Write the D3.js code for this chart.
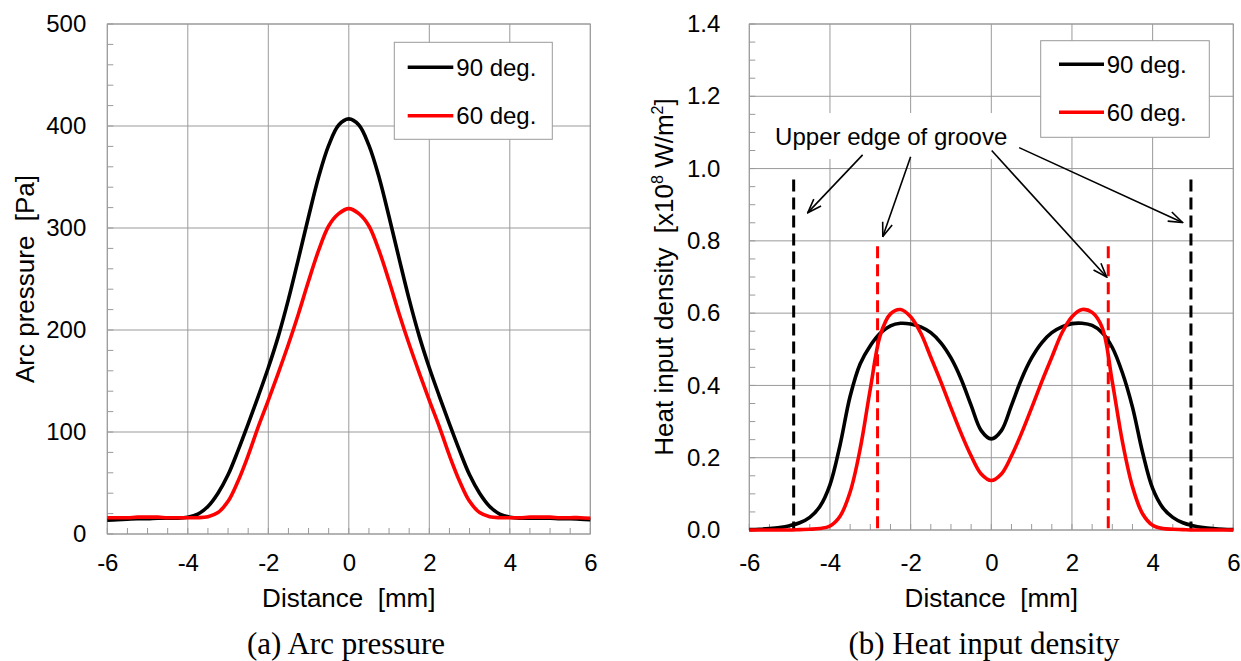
<!DOCTYPE html>
<html>
<head>
<meta charset="utf-8">
<script src="https://cdn.jsdelivr.net/npm/d3@7"></script>
<style>
  html, body { margin: 0; padding: 0; background: #fff; }
  svg { display: block; }
</style>
</head>
<body>
<svg id="fig" width="1241" height="661"></svg>
<script>
// ---- data ---------------------------------------------------------------
// distance from the torch axis [mm]
const distance = [
  -6, -5.75, -5.5, -5.25, -5, -4.75, -4.5, -4.25, -4, -3.75, -3.5, -3.25, -3,
  -2.75, -2.5, -2.25, -2, -1.75, -1.5, -1.25, -1, -0.75, -0.5, -0.25, 0,
  0.25, 0.5, 0.75, 1, 1.25, 1.5, 1.75, 2, 2.25, 2.5, 2.75, 3, 3.25, 3.5,
  3.75, 4, 4.25, 4.5, 4.75, 5, 5.25, 5.5, 5.75, 6
];

// arc pressure [Pa]
const arcPressure90 = [
  13.5, 14, 14.5, 15, 15, 15.5, 15.5, 15.5, 16.5, 19.5, 27, 40, 58,
  82, 108, 135, 163, 194, 230, 270, 311, 350, 381, 401, 407,
  401, 381, 350, 311, 270, 230, 194, 163, 135, 108, 82, 58, 40, 27,
  19.5, 16.5, 15.5, 15.5, 15.5, 15.5, 15, 15, 14.5, 14
];
const arcPressure60 = [
  16, 16, 16, 16.5, 16.5, 16.5, 16, 16, 16, 16, 17, 21, 32,
  52, 77, 105, 131, 158, 186, 216, 248, 278, 302, 314, 319,
  314, 302, 278, 248, 216, 186, 158, 131, 105, 77, 52, 32, 21, 17,
  16, 16, 16, 16.5, 16.5, 16.5, 16, 16, 16, 15.5
];

// heat input density [x10^8 W/m^2]
const heatInput90 = [
  0.001, 0.002, 0.004, 0.007, 0.012, 0.02, 0.035, 0.065, 0.125, 0.235, 0.37, 0.46, 0.51,
  0.545, 0.565, 0.572, 0.57, 0.562, 0.546, 0.518, 0.476, 0.418, 0.345, 0.275, 0.252,
  0.275, 0.345, 0.418, 0.476, 0.518, 0.546, 0.562, 0.571, 0.572, 0.566, 0.546, 0.505, 0.435, 0.34,
  0.215, 0.115, 0.062, 0.035, 0.02, 0.012, 0.007, 0.004, 0.002, 0.001
];
const heatInput60 = [
  0, 0, 0, 0, 0, 0.001, 0.002, 0.004, 0.011, 0.038, 0.105, 0.225, 0.39,
  0.54, 0.598, 0.61, 0.59, 0.545, 0.478, 0.41, 0.338, 0.268, 0.205, 0.155, 0.137,
  0.155, 0.205, 0.268, 0.338, 0.41, 0.478, 0.545, 0.59, 0.61, 0.602, 0.56, 0.41, 0.245, 0.12,
  0.045, 0.013, 0.004, 0.002, 0.001, 0, 0, 0, 0, 0
];

// groove upper edges: position [mm] and marker height
const grooveEdges90 = [-4.9, 4.95];
const grooveEdges60 = [-2.82, 2.9];
const grooveMarkTop90 = 0.97;
const grooveMarkTop60 = 0.785;

// ticks
const distanceTicks = [-6, -4, -2, 0, 2, 4, 6];
const pressureTicks = [0, 100, 200, 300, 400, 500];
const heatTicks = [0, 0.2, 0.4, 0.6, 0.8, 1.0, 1.2, 1.4];

const seriesNames = ["90 deg.", "60 deg."];
const seriesColors = ["#000000", "#ff0000"];

// callout: label anchor and arrows (start -> tip) in data units
const calloutText = "Upper edge of groove";
const calloutAnchor = [-5.36, 1.09];
const calloutArrows = [
  [[-3.19, 1.038], [-4.55, 0.878]],
  [[-2.0, 1.033], [-2.69, 0.812]],
  [[0.01, 1.05], [2.86, 0.70]],
  [[0.69, 1.058], [4.74, 0.851]]
];

// ---- drawing ------------------------------------------------------------
const SANS = "'Liberation Sans', Arial, Helvetica, sans-serif";
const SERIF = "'Liberation Serif', 'Times New Roman', serif";
const GRID = "#9a9a9a";
const svg = d3.select("#fig");

const defs = svg.append("defs");
defs.append("marker")
  .attr("id", "openArrow")
  .attr("viewBox", "0 0 16 12")
  .attr("refX", 15).attr("refY", 6)
  .attr("markerWidth", 16).attr("markerHeight", 12)
  .attr("markerUnits", "userSpaceOnUse")
  .attr("orient", "auto")
  .append("path")
  .attr("d", "M1,1 L15,6 L1,11")
  .attr("fill", "none").attr("stroke", "#000").attr("stroke-width", 1.6);

function drawPanel(o) {
  const x = d3.scaleLinear().domain([-6, 6]).range([o.left, o.right]);
  const y = d3.scaleLinear().domain(o.yDomain).range([o.bottom, o.top]);
  const g = svg.append("g");

  // grid
  g.append("g").selectAll("line").data(distanceTicks).join("line")
    .attr("x1", d => x(d)).attr("x2", d => x(d))
    .attr("y1", o.top).attr("y2", o.bottom)
    .attr("stroke", GRID).attr("stroke-width", 1);
  g.append("g").selectAll("line").data(o.yTicks).join("line")
    .attr("x1", o.left).attr("x2", o.right)
    .attr("y1", d => y(d)).attr("y2", d => y(d))
    .attr("stroke", GRID).attr("stroke-width", 1);

  // minor ticks, pointing into the plot
  const minorX = d3.range(-6, 6.001, 0.5);
  g.append("g").selectAll("line").data(minorX).join("line")
    .attr("x1", d => x(d)).attr("x2", d => x(d))
    .attr("y1", o.bottom).attr("y2", o.bottom - 6)
    .attr("stroke", GRID).attr("stroke-width", 1);
  const minorY = d3.range(o.yDomain[0], o.yDomain[1] + o.minorStep / 2, o.minorStep);
  g.append("g").selectAll("line").data(minorY).join("line")
    .attr("x1", o.left).attr("x2", o.left + 6)
    .attr("y1", d => y(d)).attr("y2", d => y(d))
    .attr("stroke", GRID).attr("stroke-width", 1);

  // frame
  g.append("rect")
    .attr("x", o.left).attr("y", o.top)
    .attr("width", o.right - o.left).attr("height", o.bottom - o.top)
    .attr("fill", "none").attr("stroke", GRID).attr("stroke-width", 1);

  // tick labels
  const ax = g.append("g").attr("transform", `translate(0,${o.bottom})`)
    .call(d3.axisBottom(x).tickValues(distanceTicks).tickSize(0).tickPadding(o.xPad)
      .tickFormat(d => String(d)));
  const ay = g.append("g").attr("transform", `translate(${o.left},0)`)
    .call(d3.axisLeft(y).tickValues(o.yTicks).tickSize(0).tickPadding(o.yPad)
      .tickFormat(o.fmt));
  [ax, ay].forEach(a => {
    a.select(".domain").remove();
    a.attr("font-family", SANS).attr("font-size", 24);
    a.selectAll("text").attr("fill", "#000");
  });

  // axis titles
  g.append("text")
    .attr("x", (o.left + o.right) / 2).attr("y", 607)
    .attr("text-anchor", "middle")
    .attr("font-family", SANS).attr("font-size", 26).attr("fill", "#000")
    .attr("xml:space", "preserve")
    .text("Distance  [mm]");

  const yt = g.append("text")
    .attr("transform", `translate(${o.yTitleX},${(o.top + o.bottom) / 2}) rotate(-90)`)
    .attr("text-anchor", "middle")
    .attr("font-family", SANS).attr("font-size", 26).attr("fill", "#000")
    .attr("xml:space", "preserve");
  o.yTitle(yt);

  // caption
  g.append("text")
    .attr("x", o.captionX).attr("y", 654)
    .attr("text-anchor", "middle")
    .attr("font-family", SERIF).attr("font-size", 31).attr("fill", "#000")
    .text(o.caption);

  if (o.extra) o.extra(g, x, y);

  // curves
  const line = d3.line()
    .x((d, i) => x(distance[i]))
    .y(d => y(Math.max(0, d)))
    .curve(d3.curveCatmullRom.alpha(0.5));
  o.series.forEach((s, k) => {
    g.append("path")
      .attr("d", line(s))
      .attr("fill", "none")
      .attr("stroke", seriesColors[k])
      .attr("stroke-width", 3.6)
      .attr("stroke-linejoin", "round");
  });

  // legend
  const L = o.legend;
  const lg = g.append("g");
  lg.append("rect")
    .attr("x", L.x).attr("y", L.y).attr("width", L.w).attr("height", L.h)
    .attr("fill", "#fff").attr("stroke", GRID).attr("stroke-width", 1);
  seriesNames.forEach((name, k) => {
    const yy = L.y + L.row0 + k * L.rowGap;
    lg.append("line")
      .attr("x1", L.x + L.lineX0).attr("x2", L.x + L.lineX1)
      .attr("y1", yy).attr("y2", yy)
      .attr("stroke", seriesColors[k]).attr("stroke-width", 3.6);
    lg.append("text")
      .attr("x", L.x + L.textX).attr("y", yy + 8.6)
      .attr("font-family", SANS).attr("font-size", 24).attr("fill", "#000")
      .text(name);
  });
}

// (a) arc pressure
drawPanel({
  left: 107.3, right: 590.3, top: 24, bottom: 534,
  yDomain: [0, 500], yTicks: pressureTicks, minorStep: 20,
  fmt: d3.format("d"), xPad: 20, yPad: 21,
  yTitleX: 34,
  yTitle: t => t.text("Arc pressure  [Pa]"),
  caption: "(a) Arc pressure", captionX: 346,
  series: [arcPressure90, arcPressure60],
  legend: { x: 394.3, y: 42.3, w: 158, h: 97, row0: 25, rowGap: 48.4,
            lineX0: 13.4, lineX1: 59, textX: 62 }
});

// (b) heat input density
drawPanel({
  left: 749.3, right: 1233.3, top: 24, bottom: 530,
  yDomain: [0, 1.4], yTicks: heatTicks, minorStep: 0.05,
  fmt: d3.format(".1f"), xPad: 24, yPad: 29,
  yTitleX: 673,
  yTitle: t => {
    t.append("tspan").text("Heat input density  [x10");
    t.append("tspan").attr("font-size", 16).attr("dy", -10).text("8");
    t.append("tspan").attr("dy", 10).text(" W/m");
    t.append("tspan").attr("font-size", 16).attr("dy", -10).text("2");
    t.append("tspan").attr("dy", 10).text("]");
  },
  caption: "(b) Heat input density", captionX: 984,
  series: [heatInput90, heatInput60],
  legend: { x: 1040.7, y: 40.7, w: 168.6, h: 96.6, row0: 23.6, rowGap: 48,
            lineX0: 18.3, lineX1: 63.3, textX: 66 },
  extra: (g, x, y) => {
    // groove edge markers
    const marks = [
      ...grooveEdges90.map(v => ({ v, top: grooveMarkTop90, c: seriesColors[0] })),
      ...grooveEdges60.map(v => ({ v, top: grooveMarkTop60, c: seriesColors[1] }))
    ];
    g.append("g").selectAll("line").data(marks).join("line")
      .attr("x1", d => x(d.v)).attr("x2", d => x(d.v))
      .attr("y1", d => y(d.top)).attr("y2", y(0))
      .attr("stroke", d => d.c).attr("stroke-width", 3)
      .attr("stroke-dasharray", "12,6");

    // callout label on a white patch
    const tx = x(calloutAnchor[0]), ty = y(calloutAnchor[1]);
    const patch = g.append("rect").attr("fill", "#fff");
    const lab = g.append("text")
      .attr("x", tx).attr("y", ty + 8.6)
      .attr("font-family", SANS).attr("font-size", 24).attr("fill", "#000")
      .text(calloutText);
    const bb = lab.node().getBBox();
    patch
      .attr("x", bb.x - 6).attr("y", ty - 23)
      .attr("width", bb.width + 12).attr("height", 46);

    g.append("g").selectAll("line").data(calloutArrows).join("line")
      .attr("x1", d => x(d[0][0])).attr("y1", d => y(d[0][1]))
      .attr("x2", d => x(d[1][0])).attr("y2", d => y(d[1][1]))
      .attr("stroke", "#000").attr("stroke-width", 1.6)
      .attr("marker-end", "url(#openArrow)");
  }
});
</script>
</body>
</html>
